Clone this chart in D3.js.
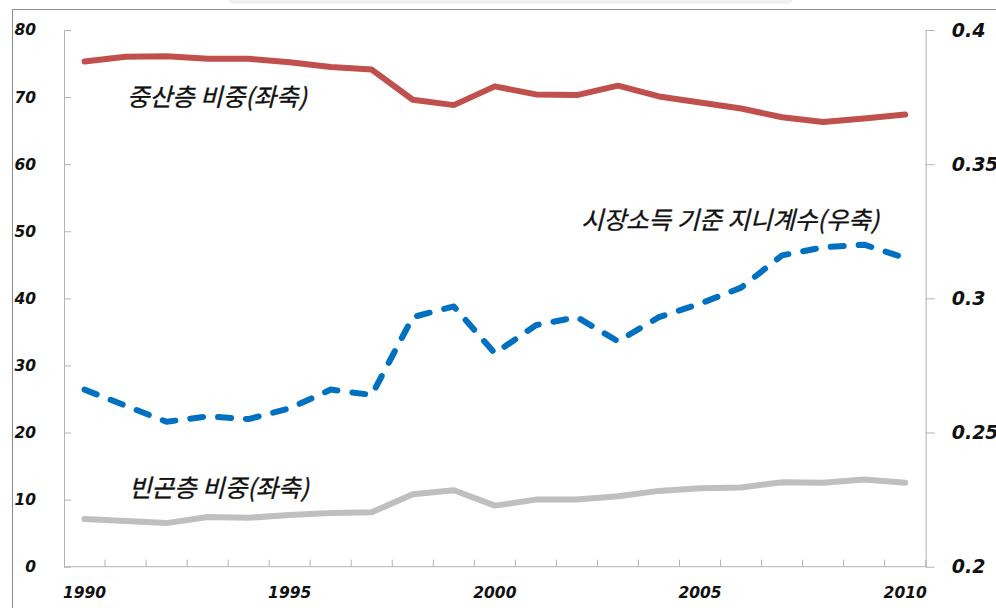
<!DOCTYPE html>
<html>
<head>
<meta charset="utf-8">
<script src="https://cdn.jsdelivr.net/npm/d3@7"></script>
<style>
  body { margin: 0; background: #fff; }
  svg { display: block; }
  .tick text { font-family: "DejaVu Sans", Verdana, sans-serif; font-weight: bold; font-style: italic; fill: #111; }
  .note { font-family: "Noto Sans CJK KR", sans-serif; font-style: italic; fill: #111; stroke: #111; stroke-width: 0.35px; }
</style>
</head>
<body>
<script>
const width = 996;
const height = 608;

// 연도
const years = d3.range(1990, 2011);
// 중산층 비중 (%)
const middleShare = [75.3, 76.0, 76.1, 75.7, 75.7, 75.2, 74.5, 74.1, 69.6, 68.8, 71.6,
                     70.4, 70.3, 71.7, 70.1, 69.2, 68.3, 67.0, 66.3, 66.8, 67.4];
// 빈곤층 비중 (%)
const povertyShare = [7.1, 6.8, 6.5, 7.4, 7.3, 7.7, 8.0, 8.1, 10.8, 11.4, 9.1,
                      10.0, 10.0, 10.5, 11.3, 11.7, 11.8, 12.6, 12.5, 13.0, 12.5];
// 시장소득 기준 지니계수
const gini = [0.266, 0.260, 0.254, 0.256, 0.255, 0.259, 0.266, 0.264, 0.293, 0.297, 0.2795,
              0.290, 0.293, 0.284, 0.293, 0.298, 0.304, 0.316, 0.319, 0.320, 0.315];

const leftTicks = [0, 10, 20, 30, 40, 50, 60, 70, 80];
const rightTicks = [0.2, 0.25, 0.3, 0.35, 0.4];
const yearLabels = [1990, 1995, 2000, 2005, 2010];

const plot = {left: 64, right: 925.7, top: 30, bottom: 566.7};

const svg = d3.select("body")
    .append("svg")
    .attr("width", width)
    .attr("height", height);

// 뒤쪽 흐린 그림자 + 테두리
svg.append("rect")
    .attr("x", 228).attr("y", -12)
    .attr("width", 565).attr("height", 15)
    .attr("rx", 6)
    .style("fill", "#f2f2f2")
    .style("stroke", "#e6e6e6");

svg.append("rect")
    .attr("x", 12.5).attr("y", 9.5)
    .attr("width", 1000).attr("height", 700)
    .style("fill", "none")
    .style("stroke", "#8c8c8c")
    .style("stroke-width", 1);

const x = d3.scaleBand()
    .domain(years)
    .range([plot.left, plot.right]);

const cx = d => x(d) + x.bandwidth() / 2;

const yLeft = d3.scaleLinear()
    .domain([0, 80])
    .range([plot.bottom, plot.top]);

const yRight = d3.scaleLinear()
    .domain([0.2, 0.4])
    .range([plot.bottom, plot.top]);

// 좌축
const gLeft = svg.append("g")
    .attr("transform", `translate(${plot.left},0)`)
    .call(d3.axisLeft(yLeft).tickValues(leftTicks).tickSize(-7).tickPadding(28).tickSizeOuter(0));
gLeft.selectAll("text").style("font-size", "15.5px");

// 우축
const gRight = svg.append("g")
    .attr("transform", `translate(${plot.right},0)`)
    .call(d3.axisRight(yRight).tickValues(rightTicks).tickSize(9).tickPadding(17).tickSizeOuter(0)
        .tickFormat(d => String(+d.toFixed(2))));
gRight.selectAll("text").style("font-size", "19px");

// x축
const gX = svg.append("g")
    .attr("transform", `translate(0,${plot.bottom})`)
    .call(d3.axisBottom(x).tickValues(yearLabels).tickSize(0).tickPadding(20));
gX.select(".domain").remove();
gX.selectAll("text").style("font-size", "15.5px");

// 범주 경계 눈금
svg.append("g")
    .selectAll("line")
    .data(years.slice(1).concat([null]))
    .enter()
    .append("line")
    .attr("x1", d => d === null ? plot.right : x(d))
    .attr("x2", d => d === null ? plot.right : x(d))
    .attr("y1", plot.bottom)
    .attr("y2", plot.bottom - 7);

svg.append("line")
    .attr("x1", plot.left).attr("x2", plot.right)
    .attr("y1", plot.bottom).attr("y2", plot.bottom);

svg.selectAll("line, .domain")
    .style("stroke", "#b3b3b3")
    .style("stroke-width", 1);

const lineLeft = d3.line()
    .x((d, i) => cx(years[i]))
    .y(d => yLeft(d));

const lineRight = d3.line()
    .x((d, i) => cx(years[i]))
    .y(d => yRight(d));

svg.append("path")
    .datum(povertyShare)
    .attr("d", lineLeft)
    .style("fill", "none")
    .style("stroke", "#BFBFBF")
    .style("stroke-width", 6)
    .style("stroke-linejoin", "round")
    .style("stroke-linecap", "round");

svg.append("path")
    .datum(middleShare)
    .attr("d", lineLeft)
    .style("fill", "none")
    .style("stroke", "#C0504D")
    .style("stroke-width", 6)
    .style("stroke-linejoin", "round")
    .style("stroke-linecap", "round");

svg.append("path")
    .datum(gini)
    .attr("d", lineRight)
    .style("fill", "none")
    .style("stroke", "#0070C0")
    .style("stroke-width", 6)
    .style("stroke-dasharray", "13,15")
    .style("stroke-linejoin", "round")
    .style("stroke-linecap", "round");

// 주석
const notes = [
    {text: "중산층 비중(좌축)", x: 127, y: 106},
    {text: "시장소득 기준 지니계수(우축)", x: 581, y: 229},
    {text: "빈곤층 비중(좌축)", x: 129, y: 497}
];

svg.selectAll(".note")
    .data(notes)
    .enter()
    .append("text")
    .attr("class", "note")
    .attr("x", d => d.x)
    .attr("y", d => d.y)
    .style("font-size", "24.5px")
    .text(d => d.text);
</script>
</body>
</html>
